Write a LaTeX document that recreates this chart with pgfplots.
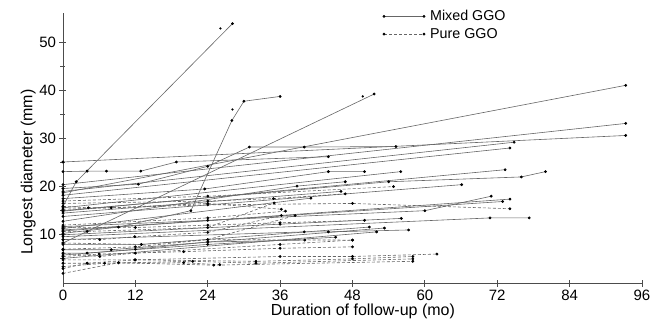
\documentclass[border=0pt]{standalone}
\usepackage{pgfplots}
\pgfplotsset{compat=1.18}
\usepackage{fontspec}
\setmainfont{Liberation Sans}
\begin{document}
\begin{tikzpicture}
\begin{axis}[
  name=ax, at={(0,0)}, anchor=origin,
  scale only axis, width=579pt, height=270pt,
  xmin=0, xmax=96, ymin=0, ymax=56,
  axis x line*=bottom, axis y line*=left,
  axis line style={black!70, line width=0.8pt, -},
  xtick={0,12,...,96}, ytick={10,20,...,50},
  minor ytick={5,15,25,35,45},
  tick align=center, major tick length=7pt, minor tick length=5pt,
  tick style={black!70, line width=0.8pt},
  /pgf/number format/assume math mode=true,
  ticklabel style={font=\fontsize{15}{17}\selectfont},
  xlabel={Duration of follow-up (mo)},
  ylabel={Longest diameter (mm)},
  label style={font=\fontsize{16}{18}\selectfont},
  xlabel style={at={(axis description cs:0.518,-0.104)}, anchor=center},
  ylabel style={at={(axis description cs:-0.06,0.41)}, anchor=center, rotate=0},
  clip=false,
  mixed/.style={black!60, line width=0.6pt, solid, mark=*, mark size=1.1pt, mark options={solid, fill=black, draw=black}},
  pure/.style={black!60, line width=0.6pt, dash pattern=on 3pt off 2pt, mark=*, mark size=1.1pt, mark options={solid, fill=black, draw=black}},
  legend style={draw=none, fill=none, at={(0.547,1.025)}, anchor=north west, font=\fontsize{14.3}{16}\selectfont, row sep=2pt, nodes={inner xsep=5pt}},
  legend cell align=left,
  legend image code/.code={\draw[#1] plot coordinates {(0pt,0pt) (40pt,0pt)};},
]
\addplot[mixed] coordinates {(0,15.9) (2.2,21) (28.1,53.8)};
\addlegendentry{Mixed GGO}
\addplot[pure] coordinates {(0,4.8) (11.9,4.8) (36,5.5) (48,5.5) (62,6)};
\addlegendentry{Pure GGO}
\addplot[mixed] coordinates {(0,10.3) (9.2,11.6) (21.2,15) (28,33.7) (30,37.7) (36,38.7)};
\addplot[mixed] coordinates {(0,8.3) (51.6,39.2)};
\addplot[mixed] coordinates {(0,18.7) (93.3,41)};
\addplot[mixed] coordinates {(0,20.4) (93.3,33.1)};
\addplot[mixed] coordinates {(0,25.1) (93.3,30.6)};
\addplot[mixed] coordinates {(0,23.1) (4,23.2) (7.2,23.2) (12.9,23.2) (18.8,25.1) (44,26.2)};
\addplot[mixed] coordinates {(0,19.6) (12.5,20.5) (24,24.2) (30.9,28.2) (40,28.2) (55.2,28.3)};
\addplot[mixed] coordinates {(0,19) (74.8,29.2)};
\addplot[mixed] coordinates {(0,18.2) (74.1,28)};
\addplot[mixed] coordinates {(0,17.5) (23.5,19.5) (44,23.1) (50,23.1)};
\addplot[mixed] coordinates {(0,15.6) (56,23.1)};
\addplot[mixed] coordinates {(0,15) (54,21) (76,22) (80,23.1)};
\addplot[mixed] coordinates {(0,14.9) (73.3,23.5)};
\addplot[mixed] coordinates {(0,13.8) (66.1,20.4)};
\addplot[mixed] coordinates {(0,12.8) (38.8,20.1) (46.8,21)};
\addplot[mixed] coordinates {(0,11.7) (24,13) (60,15) (71,18)};
\addplot[mixed] coordinates {(0,11.3) (41.1,17.6)};
\addplot[mixed] coordinates {(0,11) (72.9,16.9)};
\addplot[mixed] coordinates {(0,10.8) (74.1,17.4)};
\addplot[mixed] coordinates {(0,9.6) (70.8,13.5) (77.3,13.5)};
\addplot[mixed] coordinates {(0,10) (36,12.2) (56.1,13.4)};
\addplot[mixed] coordinates {(0,9) (40,10.6) (44,10.6) (57.3,11)};
\addplot[mixed] coordinates {(0,8) (13,8) (50.8,11.6)};
\addplot[mixed] coordinates {(0,6.9) (8,6.9) (53.3,11.4)};
\addplot[mixed] coordinates {(0,6.2) (4,6.2) (24,8) (45.2,9.5)};
\addplot[mixed] coordinates {(0,5.1) (52,10.6)};
\addplot[mixed] coordinates {(0,5.8) (12,7) (24,8.5) (40.1,8.9)};
\addplot[mixed] coordinates {(0,14.5) (46.1,19)};
\addplot[pure] coordinates {(0,4.1) (4,4.1) (12,4.8) (32,4.5) (48,5) (58,5.5)};
\addplot[pure] coordinates {(0,3.4) (6.9,4.1) (21.5,4.5) (32,4.1) (58,5)};
\addplot[pure] coordinates {(0,2) (9.2,4.2) (25,3.7) (58,4.5)};
\addplot[pure] coordinates {(0,6.2) (6.1,5.5) (12,6.2) (36,8) (48,8.9)};
\addplot[pure] coordinates {(0,16.5) (24,17) (34.9,17.5) (46.8,18.5)};
\addplot[pure] coordinates {(0,15.3) (24,16.2) (48,16.5) (74.1,15.4)};
\addplot[pure] coordinates {(0,9) (6.1,9) (11.9,9.6) (24,10.5) (36.2,14)};
\addplot[pure] coordinates {(0,8.3) (13,8) (24,9) (38.5,14)};
\addplot[pure] coordinates {(0,10.7) (4,10.7) (24,11.5) (35,16.6)};
\addplot[pure] coordinates {(0,12) (24,13.5) (36.9,14.9)};
\addplot[pure] coordinates {(0,7) (12,7.5) (24,9) (48,8.9)};
\addplot[pure] coordinates {(0,17) (24,18) (54.8,20)};
\addplot[pure] coordinates {(0,3) (4,4.1) (20,4.2) (26,3.8)};
\addplot[pure] coordinates {(0,5.5) (6,6) (20,6.5) (36,7.2) (48,7.5)};
\addplot[pure] coordinates {(0,11.5) (12,11.5) (24,12) (36,12.5) (50,13)};
\addplot[pure] coordinates {(0,15.9) (4.2,15.6) (8,15.6) (24,16.5) (36.2,15.3)};
\addplot[only marks, mark=*, mark size=0.9pt, black] coordinates {(26.1,52.8) (28.1,36) (49.7,38.7)};
\end{axis}
\pgfresetboundingbox
\path (-63pt,-39pt) rectangle (599pt,283pt);
\end{tikzpicture}
\end{document}
